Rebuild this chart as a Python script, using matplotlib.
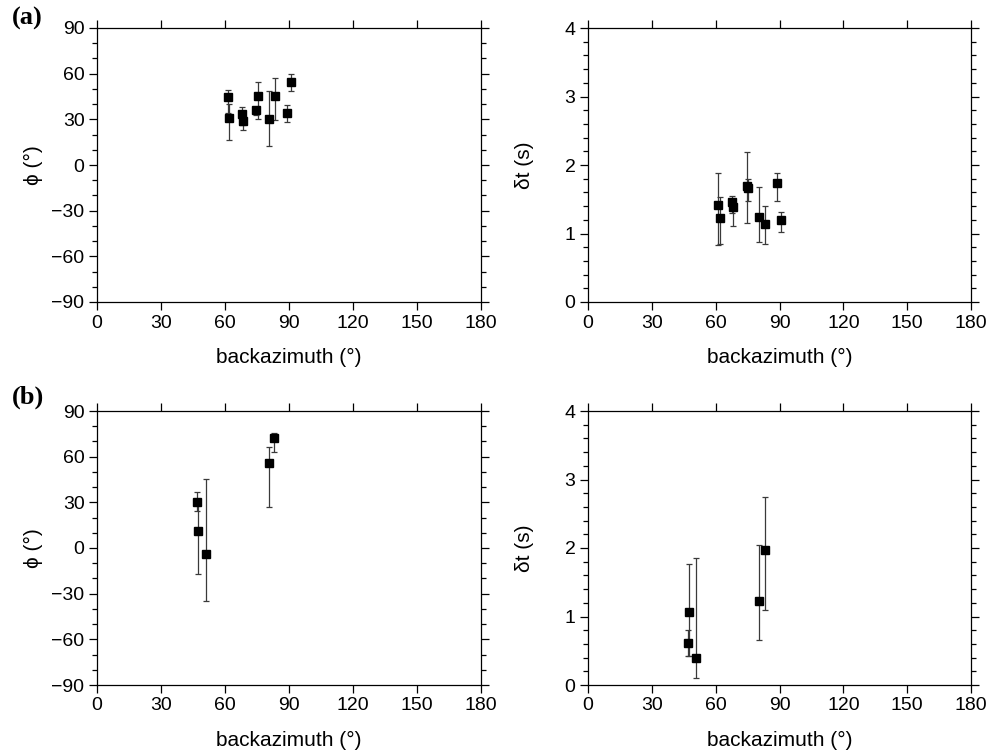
import matplotlib
matplotlib.use("Agg")
import matplotlib.pyplot as plt
import numpy as np
from matplotlib.ticker import MultipleLocator

plt.rcParams['font.family'] = ['Liberation Sans', 'DejaVu Sans']
plt.rcParams['font.size'] = 14

# (a) station data
baz_a = [61.3, 61.9, 67.8, 68.3, 74.5, 75.3, 80.5, 83.3, 88.9, 90.8]
phi_a = [44.9, 31.1, 33.7, 29.1, 36.1, 45.5, 30.4, 45.5, 34.4, 54.7]
phi_a_lo = [34.0, 16.4, 26.0, 23.0, 32.8, 30.2, 12.3, 29.3, 28.0, 48.6]
phi_a_hi = [49.5, 39.9, 38.3, 33.0, 38.0, 54.5, 48.4, 57.4, 39.4, 59.6]
dt_a = [1.42, 1.23, 1.46, 1.39, 1.70, 1.67, 1.245, 1.14, 1.73, 1.20]
dt_a_lo = [0.83, 0.85, 1.30, 1.11, 1.15, 1.48, 0.87, 0.84, 1.47, 1.02]
dt_a_hi = [1.89, 1.53, 1.55, 1.50, 2.19, 1.80, 1.68, 1.40, 1.89, 1.31]

# (b) station data
baz_b = [47.0, 47.3, 50.9, 80.6, 83.0]
phi_b = [30.0, 11.0, -3.7, 56.0, 72.5]
phi_b_lo = [24.0, -17.0, -35.0, 27.1, 63.0]
phi_b_hi = [37.0, 30.0, 45.1, 66.6, 75.3]
dt_b = [0.61, 1.07, 0.40, 1.22, 1.975]
dt_b_lo = [0.42, 0.42, 0.10, 0.65, 1.09]
dt_b_hi = [0.80, 1.76, 1.85, 2.05, 2.75]

fig = plt.figure(figsize=(9.98, 7.55), dpi=100)
W, H = 998, 755


def make_ax(x0, x1, y0, y1):
    return fig.add_axes([x0 / W, 1 - y1 / H, (x1 - x0) / W, (y1 - y0) / H])


def style(ax, ymin, ymax, ymaj, ymin_step):
    ax.set_xlim(0, 180)
    ax.set_ylim(ymin, ymax)
    ax.xaxis.set_major_locator(MultipleLocator(30))
    ax.yaxis.set_major_locator(MultipleLocator(ymaj))
    ax.yaxis.set_minor_locator(MultipleLocator(ymin_step))
    ax.tick_params(which='both', direction='out', top=True, right=True,
                   labelsize=14, width=0.9, pad=3)
    ax.tick_params(which='major', length=6)
    ax.tick_params(which='minor', length=3.5)
    for s in ax.spines.values():
        s.set_linewidth(0.9)
    ax.set_xlabel('backazimuth (°)', fontsize=15, labelpad=12)


def plot_err(ax, x, y, lo, hi):
    y = np.array(y)
    yerr = [y - np.array(lo), np.array(hi) - y]
    ax.errorbar(x, y, yerr=yerr, fmt='s', color='k', ms=5.5,
                ecolor='#3a3a3a', elinewidth=0.9, capsize=2, capthick=0.9)


rows = [(28, 302, baz_a, phi_a, phi_a_lo, phi_a_hi, dt_a, dt_a_lo, dt_a_hi, '(a)', 18),
        (411, 685, baz_b, phi_b, phi_b_lo, phi_b_hi, dt_b, dt_b_lo, dt_b_hi, '(b)', 397)]

for (y0, y1, bz, ph, phl, phh, dt, dtl, dth, tag, ty) in rows:
    axl = make_ax(97, 481, y0, y1)
    plot_err(axl, bz, ph, phl, phh)
    style(axl, -90, 90, 30, 10)
    axl.set_yticks(np.arange(-90, 91, 30))
    axl.set_yticklabels(['\u221290', '\u221260', '\u221230', '0', '30', '60', '90'])
    axl.set_ylabel('\u03d5 (°)', fontsize=15, labelpad=6)

    axr = make_ax(588, 971, y0, y1)
    plot_err(axr, bz, dt, dtl, dth)
    style(axr, 0, 4, 1, 0.2)
    axr.set_ylabel('\u03b4t (s)', fontsize=15, labelpad=22)

    fig.text(12 / W, 1 - ty / H, tag, fontsize=19, fontweight='bold',
             family=['Liberation Serif', 'DejaVu Serif'], va='center', ha='left')

fig.savefig('out.png', dpi=100)
